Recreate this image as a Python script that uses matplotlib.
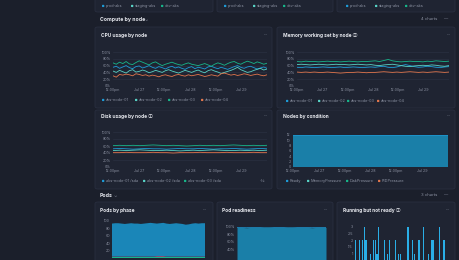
import matplotlib
matplotlib.use("Agg")
import matplotlib.pyplot as plt
from matplotlib.patches import FancyBboxPatch
import numpy as np

plt.rcParams['font.family'] = ['Inter', 'DejaVu Sans', 'Noto Sans CJK SC']

W, H = 460, 260
BG = '#1b1f2b'
PANEL = '#1f2432'
EDGE = '#2b3143'
GRID = '#2d3344'
TXT = '#e6e8ee'
SUB = '#8b91a1'

C_BLUE = '#1e9bd7'
C_TEAL = '#58d3c6'
C_GREEN = '#17b58a'
C_ORANGE = '#e2764c'
C_PINK = '#d04a7a'

# ---------------- data ----------------
clusters = ['prod-aks', 'staging-aks', 'dev-aks']
nodes = ['aks-node-01', 'aks-node-02', 'aks-node-03', 'aks-node-04']
x_tick_labels = ['12:00pm', 'Jul 27', '12:00pm', 'Jul 28', '12:00pm', 'Jul 29']
pct_ticks = ['0%', '20%', '40%', '60%', '80%', '100%']

cpu_node01 = [55,58,52,56,60,54,51,57,59,53,56,60,55,52,57,54,50,55,58,53,56,52,49,54,
              57,51,55,53,50,56,58,54,51,55,52,49,53,57,60,55,52,56,58,54,50,53,56,52]
cpu_node02 = [44,40,46,42,38,45,48,41,43,47,44,39,42,46,43,40,45,48,44,41,38,42,46,43,
              40,44,47,42,39,45,48,44,41,37,40,43,46,50,55,48,44,40,42,46,49,52,47,50]
cpu_node03 = [68,64,70,66,72,65,63,69,74,70,66,62,68,71,65,60,64,67,70,66,63,61,65,68,
              64,62,60,63,66,62,58,64,68,65,61,66,70,72,67,64,69,73,70,66,71,68,64,67]
cpu_node04 = [30,26,34,32,35,33,30,36,34,31,33,29,32,30,27,31,33,30,28,32,34,31,29,33,
              30,32,34,31,28,30,33,31,29,36,38,35,32,34,31,33,36,34,31,33,35,32,30,33]

mem_node01 = [55,54,56,55,54,55,56,55,54,55,56,54,55,56,55,54,55,56,55,57,58,55,54,56,
              60,63,60,57,55,56,58,57,55,54,56,57]
mem_node02 = [63,64,63,62,63,64,63,62,63,64,63,63,62,63,64,63,62,63,61,60,62,63,64,62,
              60,58,57,59,60,61,60,62,61,59,58,60]
mem_node03 = [72,71,73,72,72,71,72,73,72,72,71,72,73,72,71,72,72,73,74,72,75,78,74,72,
              71,72,73,72,72,71,73,72,74,73,72,73]
mem_node04 = [41,40,41,40,41,40,40,41,40,39,38,39,40,40,41,40,39,40,40,41,42,41,40,41,
              40,41,42,41,40,41,40,41,42,41,40,41]

disk_labels = ['aks-node-01 /sda', 'aks-node-02 /sda', 'aks-node-03 /sda']
disk_node01 = [52,53,52,51,52,53,52,52,51,52,53,52,52,53,52,51,52,52,53,52,51,52,53,52]
disk_node02 = [47,48,47,48,49,48,47,47,48,47,46,47,48,47,48,49,48,47,47,48,47,48,47,48]
disk_node03 = [61,62,61,62,61,62,63,62,61,62,61,60,61,62,61,62,61,62,63,62,61,62,61,62]
disk_node04 = [41,41,42,41,41,41,42,41,41,40,41,41,41,42,41,41,41,42,41,41,41,42,41,41]

conditions = ['Ready', 'MemoryPressure', 'DiskPressure', 'PIDPressure']
nodes_ready = [12]*24
nodes_mem = [0]*24
nodes_disk = [0]*24
nodes_pid = [0]*24

pods_succeeded = [3,3,3,3,3,3,3,3,3,3,3,3,3,3,3,3,3,3,3,3,3,3,3,3,3,3,3,3,3,3]
pods_failed = [1,1,1,1,1,1,1,1,1,1,1,1,1,1,2,2,2,1,1,1,1,1,1,1,1,1,1,1,1,1]
pods_running = [89,90,90,89,88,89,90,89,89,88,89,90,91,90,88,89,90,89,88,89,90,89,88,
                86,87,89,90,89,90,90]

readiness = [99,99,98,99,99,99,100,100,99,99,99,100,100,99,99,99,98,99,99,99]

not_ready = [2,0,0,2,0,2,3,2,0,0,1,0,2,2,1,3,0,0,0,2,0,1,2,0,0,0,2,0,1,1,
             0,0,0,0,3,0,0,2,1,0,0,2,0,0,3,0,0,1,0,2,2,0,0,0,3,0,0,2,0,0]

# ---------------- helpers ----------------
fig = plt.figure(figsize=(W/100, H/100), dpi=100, facecolor=BG)

def fx(x): return x / W
def fy(y): return 1 - y / H

def panel(x0, y0, x1, y1):
    p = FancyBboxPatch((fx(x0), fy(y1)), fx(x1) - fx(x0), fy(y0) - fy(y1),
                       boxstyle="round,pad=0,rounding_size=0.006",
                       transform=fig.transFigure, facecolor=PANEL,
                       edgecolor=EDGE, linewidth=0.5, zorder=-5)
    fig.patches.append(p)

def text(x, y, s, size=3.6, color=TXT, weight='normal', ha='left'):
    fig.text(fx(x), fy(y), s, fontsize=size, color=color, weight=weight,
             ha=ha, va='center')

def legend(items, y, size=2.8):
    for x, label, c in items:
        r = FancyBboxPatch((fx(x), fy(y + 1.1)), 2.3 / W, 2.3 / H,
                           boxstyle="round,pad=0,rounding_size=0.002",
                           transform=fig.transFigure, facecolor=c,
                           edgecolor='none', zorder=5)
        fig.patches.append(r)
        text(x + 4, y - 0.1, label, size=size, color=SUB)

def make_ax(x0, ytop, x1, ybot, zorder=1):
    ax = fig.add_axes([fx(x0), fy(ybot), fx(x1) - fx(x0), fy(ytop) - fy(ybot)])
    ax.set_zorder(zorder)
    ax.set_facecolor('none')
    for s in ax.spines.values():
        s.set_visible(False)
    ax.tick_params(length=0, labelsize=2.6, colors=SUB, pad=1.5)
    ax.grid(axis='y', color=GRID, linewidth=0.4)
    ax.set_axisbelow(True)
    return ax

def time_axis(ax, show=True, span=72):
    ax.set_xlim(0, span)
    ax.set_xticks([0, 12, 24, 36, 48, 60])
    if show:
        ax.set_xticklabels(x_tick_labels)
    else:
        ax.set_xticklabels([])

def hours(n, span=72):
    return np.linspace(0, span, n)

def pct_axis(ax):
    ax.set_ylim(0, 100)
    ax.set_yticks([0, 20, 40, 60, 80, 100])
    ax.set_yticklabels(pct_ticks)

# ---------------- top strip (previous row) ----------------
for (a, b) in [(95, 213), (217, 333), (337, 455)]:
    panel(a, -10, b, 12)
for x in [102, 224, 346]:
    legend([(x, clusters[0], C_BLUE), (x + 29, clusters[1], C_TEAL),
            (x + 59, clusters[2], C_GREEN)], 6)

# ---------------- section headers ----------------
text(100, 19.5, 'Compute by node', size=3.7, weight='bold')
text(145, 19.5, '⌄', size=3.2, color=SUB)
text(437, 19.5, '4 charts', size=3.0, color=SUB, ha='right')
text(446, 19.5, '—', size=3.0, color=SUB, ha='center')
text(100, 195.5, 'Pods', size=3.7, weight='bold')
text(114, 195.5, '⌄', size=3.2, color=SUB)
text(437, 195.5, '3 charts', size=3.0, color=SUB, ha='right')
text(446, 195.5, '—', size=3.0, color=SUB, ha='center')

# ---------------- CPU ----------------
panel(95, 27, 272, 108)
text(101, 36, 'CPU usage by node', size=3.5, weight='bold')
text(266, 35, '···', size=3.5, color=SUB, ha='center')
ax = make_ax(113, 52, 267, 86)
t = hours(len(cpu_node01))
for s, c in [(cpu_node01, C_BLUE), (cpu_node02, C_TEAL), (cpu_node03, C_GREEN), (cpu_node04, C_ORANGE)]:
    ax.plot(t, s, color=c, linewidth=0.6)
time_axis(ax); pct_axis(ax)
legend([(102, nodes[0], C_BLUE), (135, nodes[1], C_TEAL),
        (168, nodes[2], C_GREEN), (201, nodes[3], C_ORANGE)], 100)

# ---------------- Memory ----------------
panel(277, 27, 455, 108)
text(283, 36, 'Memory working set by node ⓘ', size=3.5, weight='bold')
text(449, 35, '···', size=3.5, color=SUB, ha='center')
ax = make_ax(297, 52, 449, 86)
t = hours(len(mem_node01))
for s, c in [(mem_node01, C_BLUE), (mem_node02, C_TEAL), (mem_node03, C_GREEN), (mem_node04, C_ORANGE)]:
    ax.plot(t, s, color=c, linewidth=0.6)
time_axis(ax); pct_axis(ax)
legend([(286, nodes[0], C_BLUE), (318, nodes[1], C_TEAL),
        (347, nodes[2], C_GREEN), (377, nodes[3], C_ORANGE)], 101)

# ---------------- Disk ----------------
panel(95, 110, 272, 189)
text(101, 116.5, 'Disk usage by node ⓘ', size=3.5, weight='bold')
text(266, 116, '···', size=3.5, color=SUB, ha='center')
ax = make_ax(113, 132, 267, 167)
t = hours(len(disk_node01))
for s, c in [(disk_node01, C_BLUE), (disk_node02, C_TEAL), (disk_node03, C_GREEN), (disk_node04, C_ORANGE)]:
    ax.plot(t, s, color=c, linewidth=0.6)
time_axis(ax); pct_axis(ax)
legend([(102, disk_labels[0], C_BLUE), (143, disk_labels[1], C_TEAL),
        (184, disk_labels[2], C_GREEN)], 181)
text(263, 181, '↑↓', size=2.6, color=SUB, ha='center')

# ---------------- Nodes by condition ----------------
panel(277, 110, 455, 189)
text(283, 116.5, 'Nodes by condition', size=3.5, weight='bold')
text(449, 116, '···', size=3.5, color=SUB, ha='center')
ax = make_ax(293, 133, 448, 167)
t = hours(len(nodes_ready))
ax.stackplot(t, nodes_disk, nodes_pid, nodes_mem, nodes_ready,
             colors=[C_GREEN, C_ORANGE, C_TEAL, '#1a7fa8'], linewidth=0)
ax.plot(t, np.array(nodes_ready), color=C_BLUE, linewidth=0.5)
ax.plot(t, np.array(nodes_disk) + 0.15, color=C_TEAL, linewidth=0.5)
time_axis(ax)
ax.set_ylim(0, 12.6)
ax.set_yticks([0, 2, 4, 6, 8, 10, 12])
ax.grid(False)
legend([(286, conditions[0], C_BLUE), (307, conditions[1], C_TEAL),
        (346, conditions[2], C_GREEN), (378, conditions[3], C_ORANGE)], 181)

# ---------------- Pods by phase ----------------
panel(95, 202, 213, 275)
text(100, 210.5, 'Pods by phase', size=3.5, weight='bold')
text(205, 210, '···', size=3.5, color=SUB, ha='center')
ax = make_ax(112, 221, 205, 258)
t = hours(len(pods_running))
ax.stackplot(t, pods_succeeded, pods_failed, pods_running,
             colors=[C_GREEN, C_PINK, '#1a86b8'], linewidth=0)
time_axis(ax, show=False)
ax.set_ylim(0, 100)
ax.set_yticks([20, 40, 60, 80, 100])
ax.grid(False)

# ---------------- Pod readiness ----------------
panel(217, 202, 333, 275)
text(222, 210.5, 'Pod readiness', size=3.5, weight='bold')
text(326, 210, '···', size=3.5, color=SUB, ha='center')
ax = make_ax(237, 227, 326, 264)
t = hours(len(readiness))
ax.fill_between(t, 0, readiness, color='#1a7fa8', linewidth=0)
ax.plot(t, readiness, color=C_BLUE, linewidth=0.5)
time_axis(ax, show=False); pct_axis(ax)
ax.set_yticks([40, 60, 80, 100])
ax.set_yticklabels(pct_ticks[2:])
ax.grid(False)

# ---------------- Running but not ready ----------------
panel(337, 202, 455, 275)
text(343, 210.5, 'Running but not ready ⓘ', size=3.5, weight='bold')
text(448, 210, '···', size=3.5, color=SUB, ha='center')
ax = make_ax(355, 227, 447, 267)
t = hours(len(not_ready))
ax.bar(t, not_ready, width=1.1, color='#2aaee6', linewidth=0)
time_axis(ax, show=False)
ax.set_ylim(0, 3)
ax.set_yticks([1, 1.5, 2, 2.5, 3])
ax.set_yticklabels(['1', '1.5', '2', '2.5', '3'])
ax.grid(False)

fig.savefig('out.png', dpi=100, facecolor=BG)
